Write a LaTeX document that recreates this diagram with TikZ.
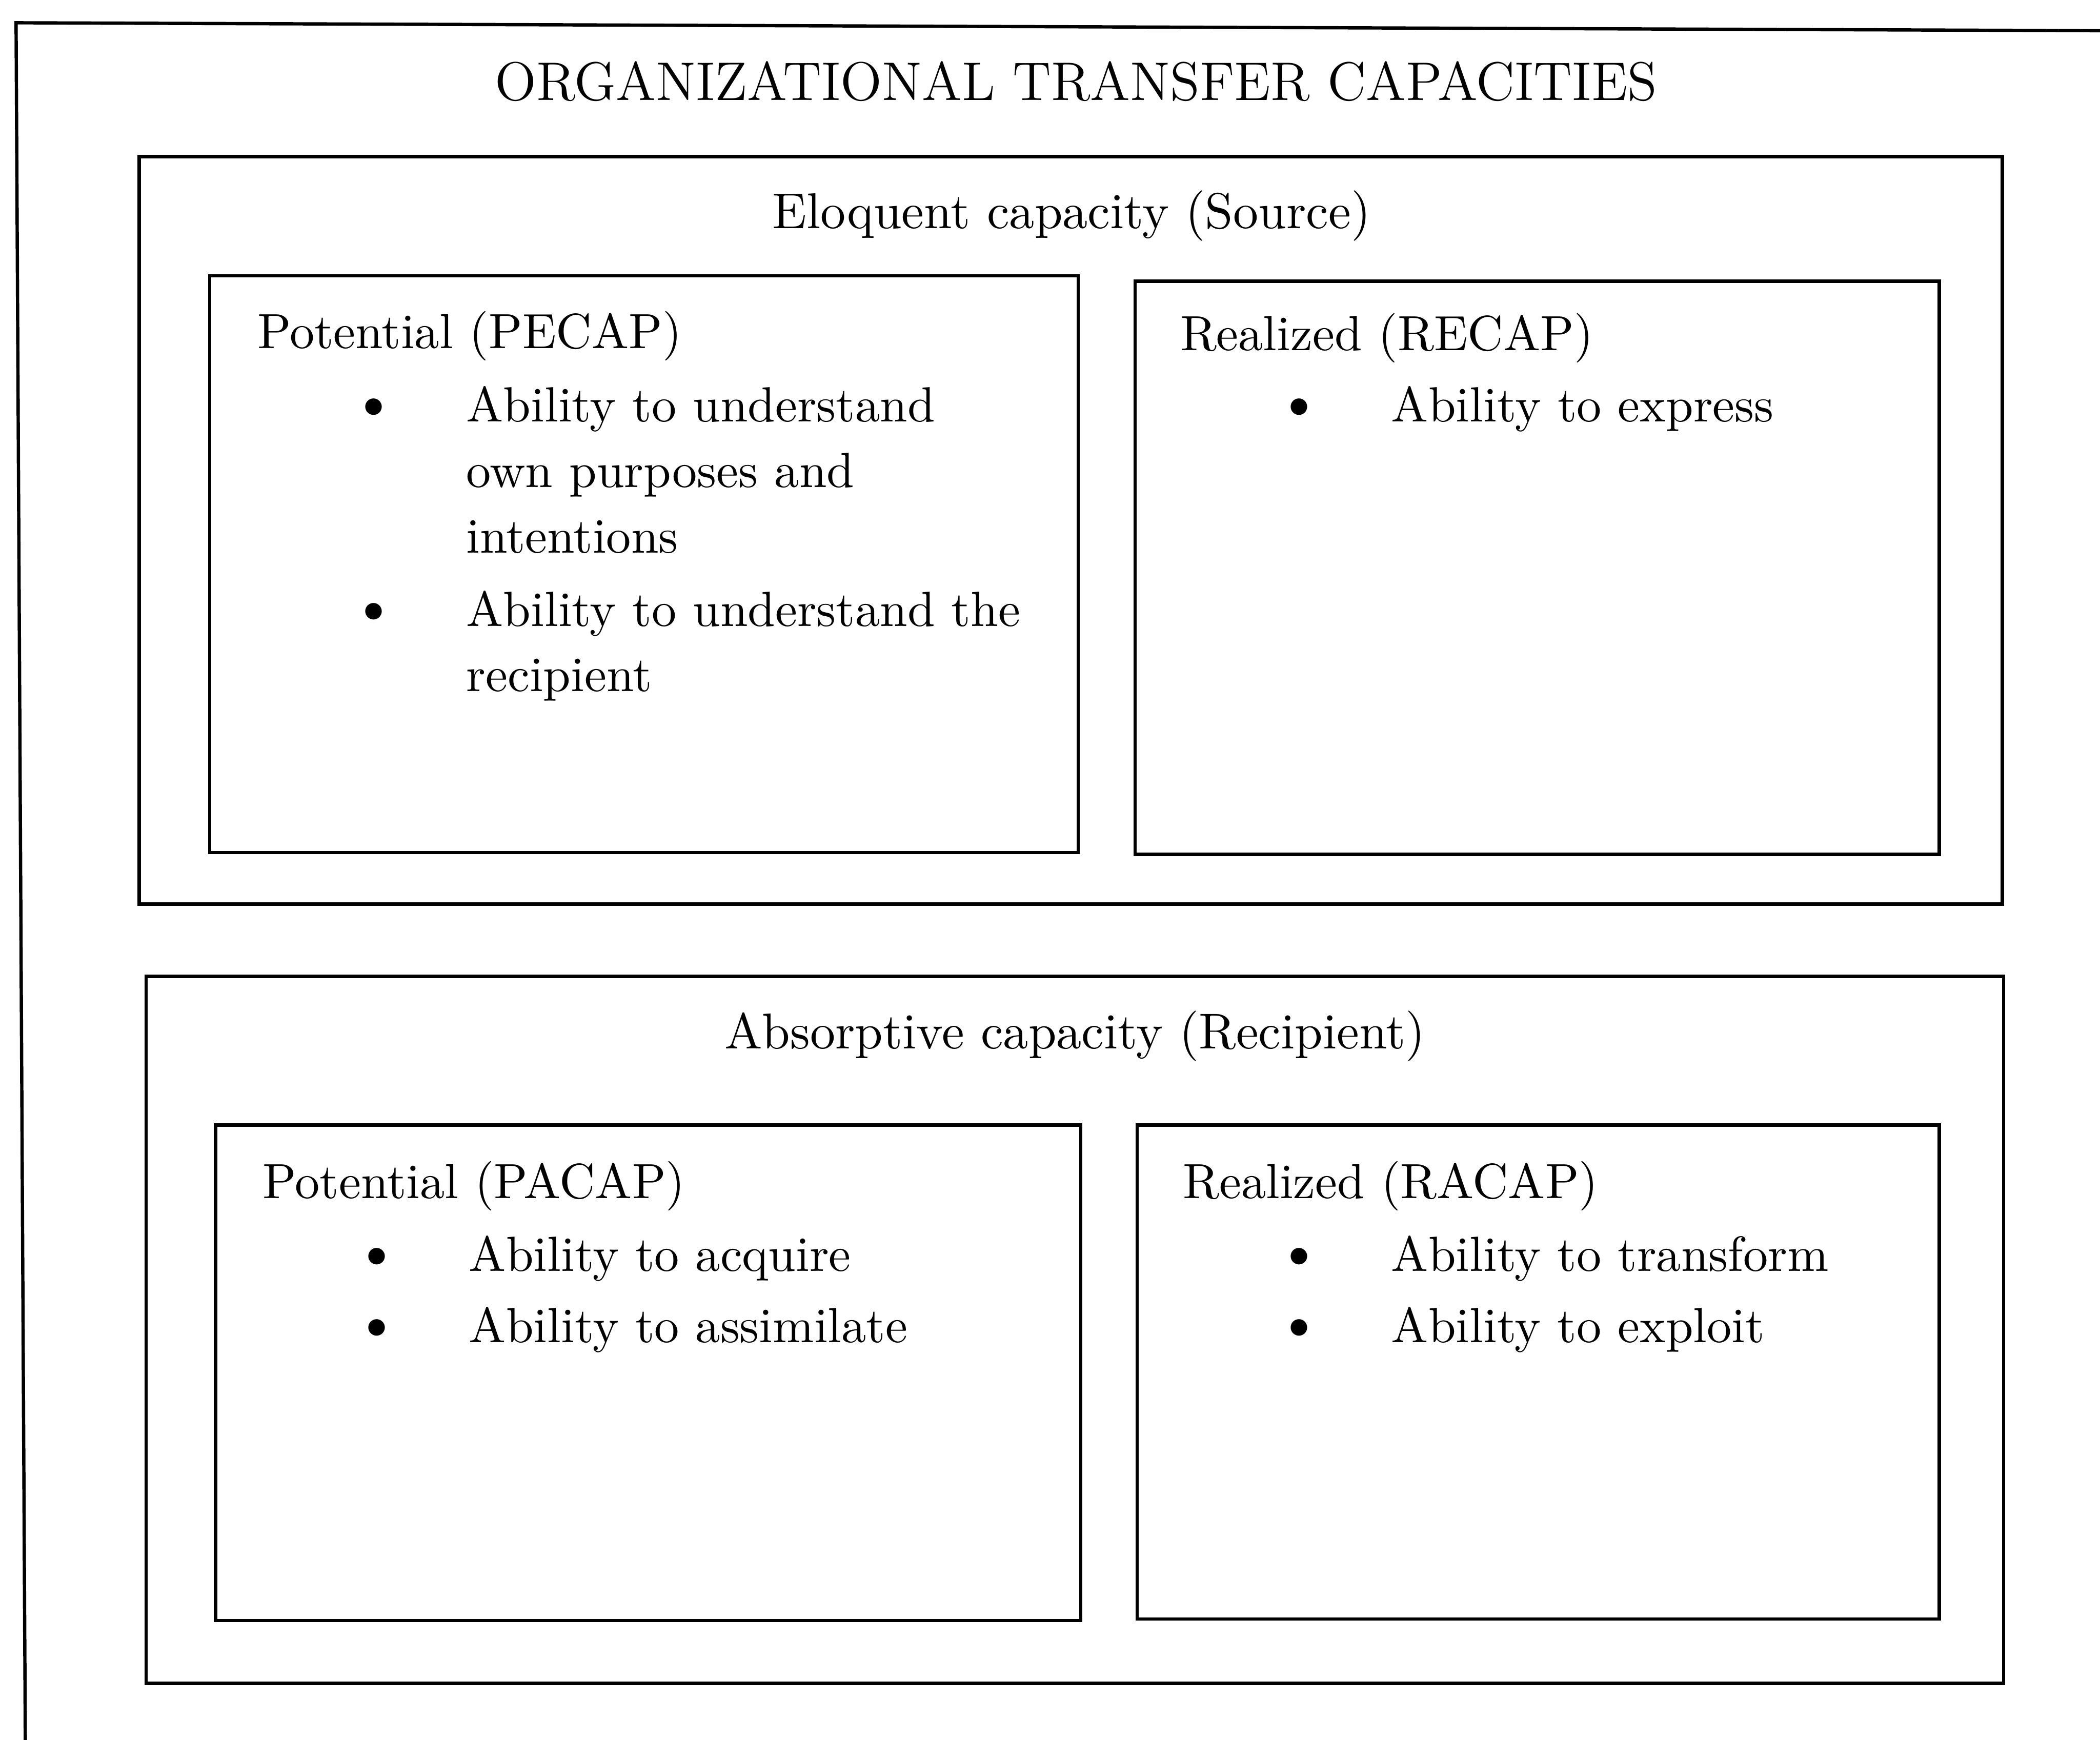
\documentclass[tikz,border=0pt]{standalone}
\newcommand{\capitem}{\makebox[0.69cm][l]{\makebox[0pt]{\fontsize{13}{13}\selectfont\textbullet}}}
\newcommand{\capgap}{\hspace*{0.69cm}}
\begin{document}
\begin{tikzpicture}[line width=0.7pt]
\useasboundingbox (0,0) rectangle (15.68,-12.99);
\draw (15.9,-0.23) -- (0.12,-0.17) -- (0.19,-13.2);

\node[anchor=base,inner sep=0] (Title) at (8.035,-0.75) {\fontsize{11.55}{13}\selectfont ORGANIZATIONAL TRANSFER CAPACITIES};

\begin{scope}[every node/.style={rectangle,draw,anchor=north west,inner sep=0,outer sep=0}]
	\node[minimum width=13.91cm,minimum height=5.58cm] (Source) at (1.04,-1.17) {};
	\node[minimum width=6.485cm,minimum height=4.305cm] (PecapBox) at (1.565,-2.06) {};
	\node[minimum width=6.005cm,minimum height=4.28cm] (RecapBox) at (8.475,-2.10) {};
	\node[minimum width=13.87cm,minimum height=5.28cm] (Recipient) at (1.09,-7.29) {};
	\node[minimum width=6.46cm,minimum height=3.70cm] (PacapBox) at (1.61,-8.40) {};
	\node[minimum width=5.99cm,minimum height=3.69cm] (RacapBox) at (8.49,-8.40) {};
\end{scope}

\begin{scope}[every node/.style={inner sep=0,anchor=base west,font=\fontsize{10.5}{13.9}\selectfont}]
	\node[anchor=base,font=\fontsize{10.7}{13.9}\selectfont] (SourceHead) at (8.00,-1.705) {Eloquent capacity (Source)};
	\node (PecapHead) at (1.91,-2.60) {Potential (PECAP)};
	\node (PecapList) at (2.78,-3.15) {\begin{tabular}[t]{@{}l@{}}
		\capitem Ability to understand\\
		\capgap own purposes and\\
		\capgap intentions\\[1.7pt]
		\capitem Ability to understand the\\
		\capgap recipient
	\end{tabular}};
	\node (RecapHead) at (8.80,-2.615) {Realized (RECAP)};
	\node (RecapList) at (9.687,-3.15) {\capitem Ability to express};

	\node[anchor=base,font=\fontsize{10.7}{13.9}\selectfont] (RecipientHead) at (8.025,-7.83) {Absorptive capacity (Recipient)};
	\node (PacapHead) at (1.95,-8.947) {Potential (PACAP)};
	\node (PacapList) at (2.80,-9.49) {\begin{tabular}[t]{@{}l@{}}
		\capitem Ability to acquire\\[1.3pt]
		\capitem Ability to assimilate
	\end{tabular}};
	\node (RacapHead) at (8.82,-8.947) {Realized (RACAP)};
	\node (RacapList) at (9.686,-9.49) {\begin{tabular}[t]{@{}l@{}}
		\capitem Ability to transform\\[1.3pt]
		\capitem Ability to exploit
	\end{tabular}};
\end{scope}
\end{tikzpicture}
\end{document}
